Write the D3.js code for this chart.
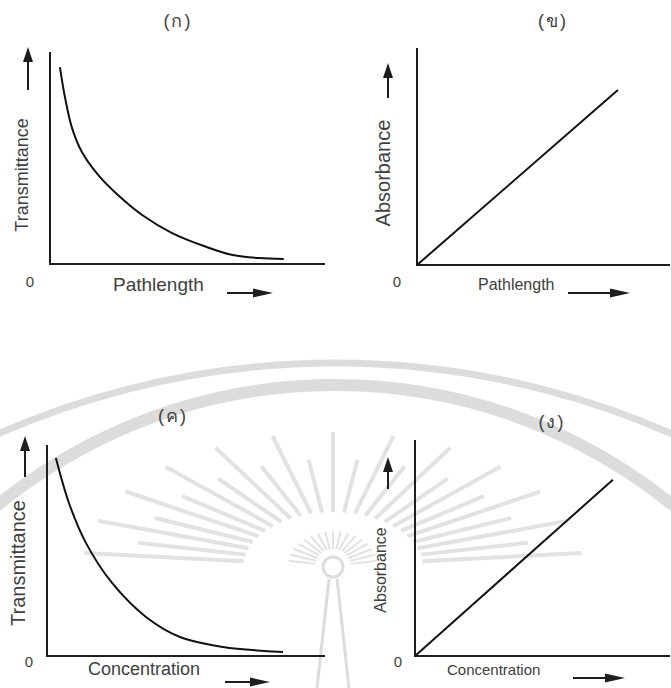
<!DOCTYPE html>
<meta charset="utf-8">
<style>
body { margin: 0; background: #fff; }
svg { display: block; }
text { font-family: "Liberation Sans", Arial, sans-serif; fill: #404040; }
.axis { stroke: #1e1e1e; stroke-width: 2; fill: none; }
.trace { stroke: #111; stroke-width: 2; fill: none; }
.arrow { stroke: #1e1e1e; stroke-width: 2; }
.head { fill: #1e1e1e; }
.wm { stroke: #dcdcdc; fill: none; }
.ray { stroke: #e2e2e2; }
</style>
<body>
<svg width="671" height="688"></svg>
<script src="https://d3js.org/d3.v7.min.js"></script>
<script>

// panel text
var titles = ["(ก)", "(ข)", "(ค)", "(ง)"];
var yLabels = ["Transmittance", "Absorbance", "Transmittance", "Absorbance"];
var xLabels = ["Pathlength", "Pathlength", "Concentration", "Concentration"];
var originLabel = "0";

// curves (fraction of axis length)
var transPathX = [0.036, 0.055, 0.08, 0.116, 0.175, 0.247, 0.335, 0.444, 0.57, 0.665, 0.76, 0.85];
var transPathY = [0.929, 0.783, 0.642, 0.528, 0.42, 0.325, 0.231, 0.146, 0.08, 0.042, 0.028, 0.024];
var absPathX = [0, 0.794];
var absPathY = [0, 0.806];
var transConcX = [0.032, 0.079, 0.14, 0.234, 0.356, 0.478, 0.633, 0.849];
var transConcY = [0.938, 0.725, 0.536, 0.346, 0.185, 0.09, 0.043, 0.019];
var absConcX = [0, 0.776];
var absConcY = [0, 0.816];

var seriesX = [transPathX, absPathX, transConcX, absConcX];
var seriesY = [transPathY, absPathY, transConcY, absConcY];

// layout of the four panels
var panels = [
	{l: 50, r: 325, t: 52, b: 264, tx: 178, ty: 22, lx: 22, ly: 175, ls: 18, ax: 28, a0: 90, a1: 47,
	 zx: 30, zy: 283, xl: 113, xy: 291, xs: 19, h0: 227, h1: 273, hy: 293},
	{l: 417, r: 670, t: 48, b: 265, tx: 553, ty: 22, lx: 383, ly: 173, ls: 20, ax: 388, a0: 98, a1: 63,
	 zx: 397, zy: 283, xl: 478, xy: 290, xs: 16, h0: 568, h1: 630, hy: 293},
	{l: 47, r: 325, t: 445, b: 656, tx: 173, ty: 417, lx: 18, ly: 563, ls: 20, ax: 25, a0: 477, a1: 436,
	 zx: 29, zy: 663, xl: 88, xy: 675, xs: 18, h0: 225, h1: 270, hy: 682},
	{l: 415, r: 670, t: 440, b: 656, tx: 552, ty: 423, lx: 380, ly: 570, ls: 16, ax: 388, a0: 489, a1: 457,
	 zx: 398, zy: 663, xl: 447, xy: 675, xs: 15, h0: 573, h1: 625, hy: 678}
];

var svg = d3.select("svg");

// faint seal in the background of the lower half
var wm = svg.append("g");
var sunX = 333, sunY = 567;
var rad = Math.PI / 180;

wm.append("path")
	.attr("class", "wm")
	.attr("stroke-width", 12)
	.attr("d", d3.arc()({innerRadius: 534, outerRadius: 534, startAngle: -0.9, endAngle: 0.9}))
	.attr("transform", "translate(335,919)");
wm.append("path")
	.attr("class", "wm")
	.attr("stroke-width", 7)
	.attr("d", d3.arc()({innerRadius: 836, outerRadius: 836, startAngle: -0.5, endAngle: 0.5}))
	.attr("transform", "translate(335,1199)");

var rayAngles = d3.range(-84, 85, 7);
wm.selectAll(".ray")
	.data(rayAngles)
	.enter().append("line")
	.attr("class", "ray")
	.attr("stroke-width", 4)
	.attr("x1", function(d){ return sunX + 90 * Math.sin(d * rad); })
	.attr("y1", function(d){ return sunY - 55 * Math.cos(d * rad); })
	.attr("x2", function(d, i){ var k = i % 2 ? 0.8 : 1; return sunX + k * 250 * Math.sin(d * rad); })
	.attr("y2", function(d, i){ var k = i % 2 ? 0.8 : 1; return sunY - k * 135 * Math.cos(d * rad); });

wm.selectAll(".short")
	.data(d3.range(-80, 81, 10))
	.enter().append("line")
	.attr("class", "ray")
	.attr("stroke-width", 2)
	.attr("x1", function(d){ return sunX + 18 * Math.sin(d * rad); })
	.attr("y1", function(d){ return sunY - 18 * Math.cos(d * rad); })
	.attr("x2", function(d){ return sunX + 45 * Math.sin(d * rad); })
	.attr("y2", function(d){ return sunY - 36 * Math.cos(d * rad); });

wm.append("circle")
	.attr("class", "wm")
	.attr("stroke-width", 3)
	.attr("cx", sunX).attr("cy", sunY).attr("r", 10);
wm.append("path")
	.attr("class", "wm")
	.attr("stroke-width", 3)
	.attr("d", "M" + (sunX - 4) + "," + (sunY + 12) + "L" + (sunX - 16) + ",688M" + (sunX + 4) + "," + (sunY + 12) + "L" + (sunX + 16) + ",688");

panels.forEach(function(p, i){
	var x = d3.scaleLinear().domain([0, 1]).range([p.l, p.r]);
	var y = d3.scaleLinear().domain([0, 1]).range([p.b, p.t]);
	var g = svg.append("g");

	g.append("path")
		.attr("class", "axis")
		.attr("d", "M" + x(0) + "," + y(1) + "V" + y(0) + "H" + x(1));

	var pts = d3.zip(seriesX[i], seriesY[i]);
	var line = d3.line()
		.x(function(d){ return x(d[0]); })
		.y(function(d){ return y(d[1]); })
		.curve(d3.curveCatmullRom.alpha(0.5));
	g.append("path")
		.attr("class", "trace")
		.attr("d", line(pts));

	g.append("text")
		.attr("x", p.tx).attr("y", p.ty)
		.attr("text-anchor", "middle")
		.attr("dominant-baseline", "middle")
		.style("font-size", "18px")
		.style("letter-spacing", "2px")
		.text(titles[i]);

	g.append("text")
		.attr("transform", "translate(" + p.lx + "," + p.ly + ") rotate(-90)")
		.attr("text-anchor", "middle")
		.attr("dy", "0.35em")
		.style("font-size", p.ls + "px")
		.text(yLabels[i]);

	// up arrow
	g.append("line")
		.attr("class", "arrow")
		.attr("x1", p.ax).attr("y1", p.a0)
		.attr("x2", p.ax).attr("y2", p.a1 + 12);
	g.append("path")
		.attr("class", "head")
		.attr("d", "M" + p.ax + "," + p.a1 + "L" + (p.ax + 5) + "," + (p.a1 + 15) + "L" + (p.ax - 5) + "," + (p.a1 + 15) + "Z");

	g.append("text")
		.attr("x", p.zx).attr("y", p.zy)
		.attr("text-anchor", "middle")
		.attr("dominant-baseline", "middle")
		.style("font-size", "15px")
		.text(originLabel);

	g.append("text")
		.attr("x", p.xl).attr("y", p.xy)
		.style("font-size", p.xs + "px")
		.text(xLabels[i]);

	// right arrow
	g.append("line")
		.attr("class", "arrow")
		.attr("x1", p.h0).attr("y1", p.hy)
		.attr("x2", p.h1 - 16).attr("y2", p.hy);
	g.append("path")
		.attr("class", "head")
		.attr("d", "M" + p.h1 + "," + p.hy + "L" + (p.h1 - 20) + "," + (p.hy - 4.5) + "L" + (p.h1 - 20) + "," + (p.hy + 4.5) + "Z");
});

</script>
</body>
</html>
